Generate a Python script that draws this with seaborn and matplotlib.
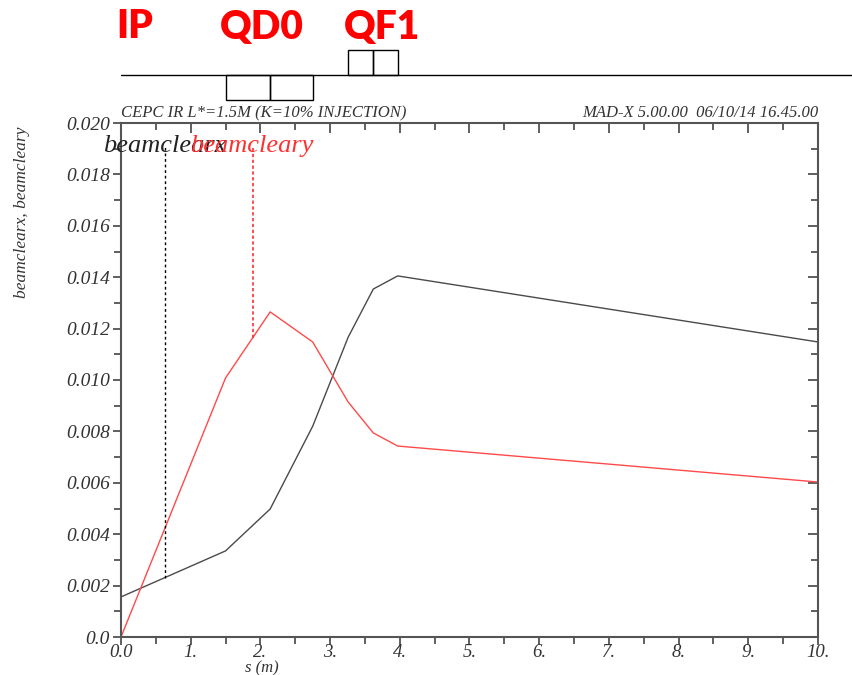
import numpy as np
import pandas as pd
import matplotlib
matplotlib.use("Agg")
import matplotlib.pyplot as plt
import seaborn as sns
from matplotlib.patches import Rectangle
from matplotlib.ticker import MultipleLocator

# Beam clearance along the interaction region
s_m = [0.0, 1.5, 2.14, 2.75, 3.26, 3.62, 3.97, 10.0]
beamclearx = [0.00156, 0.00335, 0.00498, 0.00820, 0.01167, 0.01354, 0.01405, 0.01148]
beamcleary = [0.0, 0.01008, 0.01265, 0.01148, 0.00914, 0.00794, 0.00743, 0.00603]

# Positions of the minimum-clearance markers
marker_s = [0.63, 1.89]
marker_low = [0.00231, 0.01165]
marker_top = 0.0191

# Lattice elements (start, length)
qd0_start = [1.5, 2.14]
qd0_len = [0.64, 0.62]
qf1_start = [3.26, 3.62]
qf1_len = [0.36, 0.35]

x_ticks = [0, 1, 2, 3, 4, 5, 6, 7, 8, 9, 10]
x_labels = ["0.0", "1.", "2.", "3.", "4.", "5.", "6.", "7.", "8.", "9.", "10."]
y_ticks = [0.0, 0.002, 0.004, 0.006, 0.008, 0.010, 0.012, 0.014, 0.016, 0.018, 0.020]
y_labels = ["0.0", "0.002", "0.004", "0.006", "0.008", "0.010", "0.012",
            "0.014", "0.016", "0.018", "0.020"]

sns.set_style("ticks")
plt.rcParams["font.family"] = ["Liberation Serif", "DejaVu Serif"]

W, H = 853, 675
fig = plt.figure(figsize=(W / 100, H / 100), dpi=100)
ax = fig.add_axes([121 / W, 1 - 637 / H, 697 / W, 514 / H])

df = pd.DataFrame({"s": s_m, "beamclearx": beamclearx, "beamcleary": beamcleary})
sns.lineplot(data=df, x="s", y="beamclearx", ax=ax, color="#4a4a4a", lw=1.0)
sns.lineplot(data=df, x="s", y="beamcleary", ax=ax, color="#ff4a4a", lw=1.0)

ax.vlines(marker_s[0], marker_low[0], marker_top, colors="black", linestyles=(0, (2, 2)), lw=1.0)
ax.vlines(marker_s[1], marker_low[1], marker_top, colors="#ff3030", linestyles=(0, (2, 1.5)), lw=1.2)

ax.set_xlim(0, 10)
ax.set_ylim(0, 0.020)
ax.set_xticks(x_ticks)
ax.set_xticklabels(x_labels, fontstyle="italic", fontsize=13.5, color="#333333")
ax.set_yticks(y_ticks)
ax.set_yticklabels(y_labels, fontstyle="italic", fontsize=14, color="#333333")
ax.xaxis.set_minor_locator(MultipleLocator(0.5))
ax.yaxis.set_minor_locator(MultipleLocator(0.001))
ax.tick_params(which="major", direction="out", length=6, width=1.2, color="#444444")
ax.tick_params(which="minor", direction="out", length=5, width=1.2, color="#444444")
ax.tick_params(axis="x", which="major", pad=-1)
ax.tick_params(axis="y", which="major", pad=2)
ax.set_xlabel("")
ax.set_ylabel("")
for sp in ax.spines.values():
    sp.set_visible(True)
    sp.set_color("#555555")
    sp.set_linewidth(1.5)

# Mirrored ticks on the top and right edges, pointing inward
top = ax.secondary_xaxis("top")
top.set_xticks(x_ticks)
top.xaxis.set_minor_locator(MultipleLocator(0.5))
top.tick_params(which="both", direction="in", labeltop=False, color="#444444", width=1.2)
top.tick_params(which="major", length=7)
top.tick_params(which="minor", length=5)
top.spines["top"].set_visible(False)
right = ax.secondary_yaxis("right")
right.set_yticks(y_ticks)
right.yaxis.set_minor_locator(MultipleLocator(0.001))
right.tick_params(which="both", direction="in", labelright=False, color="#444444", width=1.2)
right.tick_params(which="major", length=7)
right.tick_params(which="minor", length=5)
right.spines["right"].set_visible(False)

# Header lines
ax.text(0.0, 1.004, "CEPC IR L*=1.5M (K=10% INJECTION)", transform=ax.transAxes,
        ha="left", va="bottom", fontstyle="italic", fontsize=12, color="#333333")
ax.text(1.0, 1.004, "MAD-X 5.00.00  06/10/14 16.45.00", transform=ax.transAxes,
        ha="right", va="bottom", fontstyle="italic", fontsize=12, color="#333333")

# Curve names
ax.text((103 - 121) / 697, (637 - 152) / 514, "beamclearx", transform=ax.transAxes,
        ha="left", va="baseline", fontstyle="italic", fontsize=19, color="#222222")
ax.text((190 - 121) / 697, (637 - 152) / 514, "beamcleary", transform=ax.transAxes,
        ha="left", va="baseline", fontstyle="italic", fontsize=19, color="#ff3030")

fig.text(22 / W, 1 - 212 / H, "beamclearx, beamcleary", rotation=90, ha="center",
         va="center", fontstyle="italic", fontsize=12.5, color="#333333")
fig.text(262 / W, 1 - 668 / H, "s (m)", ha="center", va="center",
         fontstyle="italic", fontsize=12, color="#333333")

# Lattice layout strip
lat = fig.add_axes([121 / W, 1 - 100 / H, 697 / W, 50 / H])
lat.set_xlim(0, 10)
lat.set_ylim(-1, 1)
lat.axis("off")
lat.plot([0, 10.5], [0, 0], color="black", lw=1.0, clip_on=False)
for x0, w in zip(qd0_start, qd0_len):
    lat.add_patch(Rectangle((x0, -1), w, 1, fill=False, ec="black", lw=1.0, clip_on=False))
for x0, w in zip(qf1_start, qf1_len):
    lat.add_patch(Rectangle((x0, 0), w, 1, fill=False, ec="black", lw=1.0, clip_on=False))

for label, xc in [("IP", 135), ("QD0", 262), ("QF1", 382)]:
    fig.text(xc / W, 1 - 27 / H, label, ha="center", va="center", color="#ff0000",
             fontsize=28, fontweight="heavy", family=["Lato", "DejaVu Sans"])

fig.savefig("out.png", dpi=100)
